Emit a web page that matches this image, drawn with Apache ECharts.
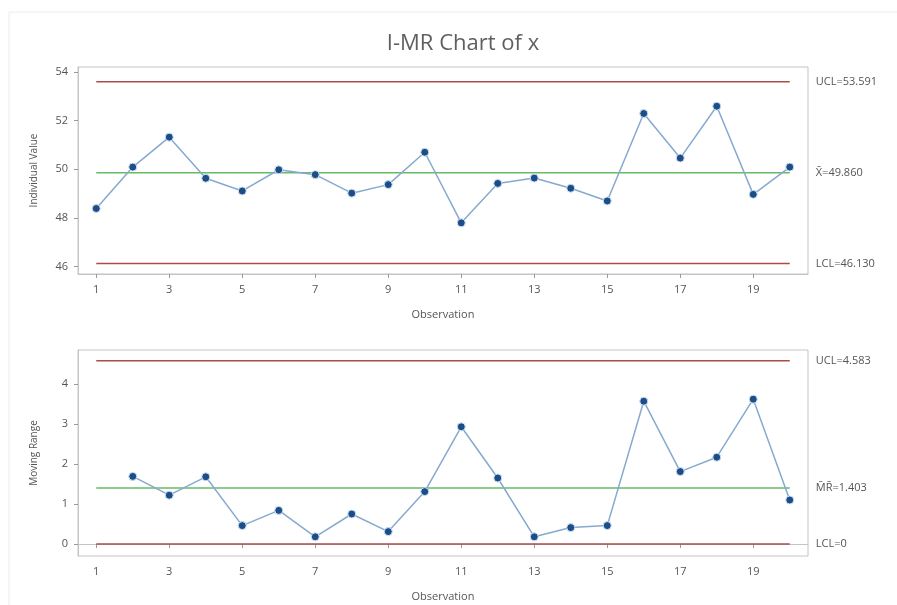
<!DOCTYPE html>
<html>
<head>
<meta charset="utf-8">
<title>I-MR Chart of x</title>
<script src="https://cdn.jsdelivr.net/npm/echarts@6/dist/echarts.min.js"></script>
<style>
  html, body { margin: 0; padding: 0; background: #fff; }
  #chart { width: 897px; height: 605px; }
</style>
</head>
<body>
<div id="chart"></div>
<script>
// Observation numbers and the individual measurements
const observations = [1, 2, 3, 4, 5, 6, 7, 8, 9, 10, 11, 12, 13, 14, 15, 16, 17, 18, 19, 20];
const individualValues = [48.39, 50.09, 51.32, 49.63, 49.11, 49.98, 49.78, 49.02, 49.37, 50.70,
                          47.80, 49.42, 49.64, 49.22, 48.70, 52.29, 50.46, 52.59, 48.97, 50.09];

// Moving ranges start at the second observation
const mrObservations = [2, 3, 4, 5, 6, 7, 8, 9, 10, 11, 12, 13, 14, 15, 16, 17, 18, 19, 20];
const movingRanges = [1.69, 1.22, 1.68, 0.46, 0.84, 0.18, 0.75, 0.31, 1.31, 2.93,
                      1.65, 0.18, 0.41, 0.46, 3.57, 1.81, 2.17, 3.62, 1.10];

// Control limits: [UCL, centre, LCL]
const iLimits = [53.591, 49.860, 46.130];
const iLimitLabels = ['UCL=53.591', 'X\u0304=49.860', 'LCL=46.130'];
const mrLimits = [4.583, 1.403, 0];
const mrLimitLabels = ['UCL=4.583', 'M\u0304R\u0304=1.403', 'LCL=0'];

// Tick labels
const xTicks = [1, 3, 5, 7, 9, 11, 13, 15, 17, 19];
const iTicks = [46, 48, 50, 52, 54];
const mrTicks = [0, 1, 2, 3, 4];

const FONT = 'Open Sans';
const limitColor = '#b04a4a';
const centerColor = '#66bb66';
const lineColor = '#86a9d0';
const markerColor = '#1d4d86';
const textColor = '#555';

function xAxisCfg(gridIndex) {
  return {
    type: 'value', gridIndex, min: 0.5, max: 20.5,
    name: 'Observation', nameLocation: 'middle', nameGap: 35,
    nameTextStyle: { color: textColor, fontSize: 11, fontFamily: FONT },
    axisLine: { show: true, lineStyle: { color: '#c4c4c4' } },
    axisTick: { show: true, length: 4, customValues: xTicks, lineStyle: { color: '#999' } },
    axisLabel: { customValues: xTicks, color: textColor, fontSize: 11, fontFamily: FONT, margin: 10 },
    splitLine: { show: false }
  };
}

function yAxisCfg(gridIndex, name, min, max, ticks) {
  return {
    type: 'value', gridIndex, min, max,
    name, nameLocation: 'middle', nameGap: 39,
    nameTextStyle: { color: textColor, fontSize: 10, fontFamily: FONT },
    axisLine: { show: true, lineStyle: { color: '#c4c4c4' } },
    axisTick: { show: true, length: 4, customValues: ticks, lineStyle: { color: '#999' } },
    axisLabel: { customValues: ticks, color: textColor, fontSize: 11, fontFamily: FONT, margin: 10 },
    splitLine: { show: false }
  };
}

function limitSeries(axisIdx, value, label, color, firstObs) {
  return {
    type: 'line', xAxisIndex: axisIdx, yAxisIndex: axisIdx,
    data: [[firstObs, value], [20, value]],
    symbol: 'none', silent: true, z: 2,
    lineStyle: { color, width: 1.5 },
    endLabel: {
      show: true, formatter: label, distance: 26,
      color: textColor, fontSize: 11, fontFamily: FONT
    }
  };
}

function dataSeries(axisIdx, xs, ys) {
  return {
    type: 'line', xAxisIndex: axisIdx, yAxisIndex: axisIdx,
    data: xs.map((x, i) => [x, ys[i]]),
    symbol: 'circle', symbolSize: 8, z: 5,
    itemStyle: { color: markerColor, borderColor: '#cfe4f7', borderWidth: 1 },
    lineStyle: { color: lineColor, width: 1.5 }
  };
}

const chart = echarts.init(document.getElementById('chart'), null, { renderer: 'canvas' });
chart.setOption({
  animation: false,
  backgroundColor: '#fff',
  title: {
    text: 'I-MR Chart of x', left: 458, top: 28, textAlign: 'center',
    textStyle: { color: '#5f5f5f', fontSize: 22, fontWeight: 'normal', fontFamily: FONT }
  },
  graphic: [{
    type: 'rect', silent: true,
    shape: { x: 9, y: 12, width: 900, height: 600 },
    style: { fill: 'none', stroke: '#ececec', lineWidth: 1 }
  }],
  grid: [
    { left: 78, top: 67, width: 730, height: 207, show: true, borderColor: '#c4c4c4', borderWidth: 1 },
    { left: 78, top: 350, width: 730, height: 206, show: true, borderColor: '#c4c4c4', borderWidth: 1 }
  ],
  xAxis: [xAxisCfg(0), xAxisCfg(1)],
  yAxis: [
    yAxisCfg(0, 'Individual Value', 45.7, 54.2, iTicks),
    yAxisCfg(1, 'Moving Range', -0.3, 4.85, mrTicks)
  ],
  series: [
    limitSeries(0, iLimits[0], iLimitLabels[0], limitColor, 1),
    limitSeries(0, iLimits[1], iLimitLabels[1], centerColor, 1),
    limitSeries(0, iLimits[2], iLimitLabels[2], limitColor, 1),
    dataSeries(0, observations, individualValues),
    limitSeries(1, mrLimits[0], mrLimitLabels[0], limitColor, 1),
    limitSeries(1, mrLimits[1], mrLimitLabels[1], centerColor, 1),
    limitSeries(1, mrLimits[2], mrLimitLabels[2], limitColor, 1),
    dataSeries(1, mrObservations, movingRanges)
  ]
});
</script>
</body>
</html>
